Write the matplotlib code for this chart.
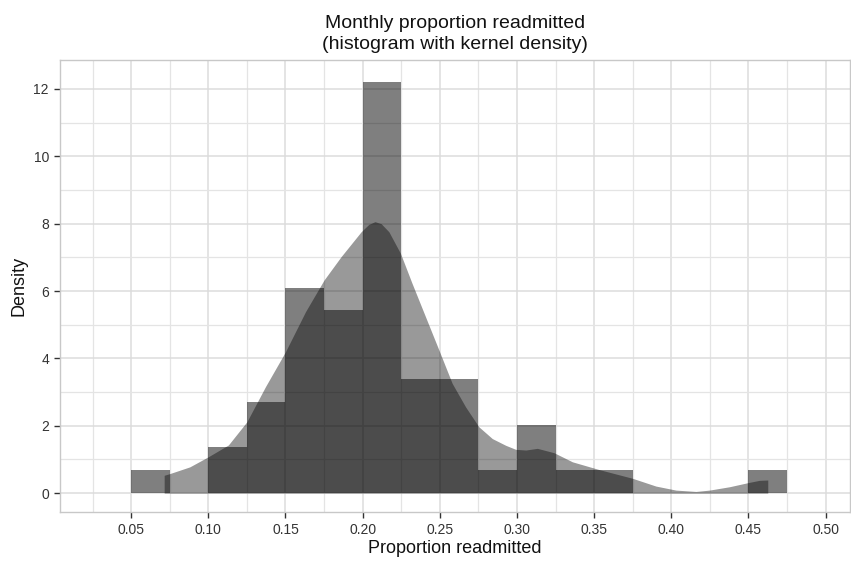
import numpy as np
import matplotlib.pyplot as plt
from matplotlib.ticker import MultipleLocator, FormatStrFormatter

plt.rcParams['font.family'] = ['Liberation Sans', 'DejaVu Sans']

# histogram: bin edges and counts (n = 59, bin width 0.025)
bin_left = [0.05, 0.075, 0.10, 0.125, 0.15, 0.175, 0.20, 0.225, 0.25,
            0.275, 0.30, 0.325, 0.35, 0.375, 0.40, 0.425, 0.45]
counts = [1, 0, 2, 4, 9, 8, 18, 5, 5, 1, 3, 1, 1, 0, 0, 0, 1]
binw = 0.025
n_obs = sum(counts)
dens_hist = [c / (n_obs * binw) for c in counts]

# kernel density curve
kde_x = [0.0714, 0.075, 0.088, 0.100, 0.113, 0.125, 0.137, 0.150, 0.163,
         0.175, 0.186, 0.199, 0.204, 0.208, 0.212, 0.217, 0.2245, 0.232,
         0.2407, 0.2494, 0.258, 0.2667, 0.2753, 0.284, 0.2927, 0.2992,
         0.3057, 0.3132, 0.324, 0.3359, 0.3532, 0.3749, 0.390, 0.403,
         0.416, 0.4247, 0.4377, 0.4495, 0.4571, 0.4625]
kde_y = [0.53, 0.58, 0.78, 1.08, 1.43, 2.12, 3.16, 4.20, 5.39,
         6.33, 7.02, 7.76, 7.98, 8.06, 8.00, 7.76, 7.12, 6.23,
         5.24, 4.25, 3.26, 2.56, 1.97, 1.62, 1.42, 1.30,
         1.28, 1.33, 1.20, 0.93, 0.70, 0.44, 0.21, 0.09,
         0.05, 0.09, 0.19, 0.31, 0.38, 0.39]

fig = plt.figure(figsize=(8.51, 5.66), dpi=100)
ax = fig.add_axes([0.0705, 0.0954, 0.928, 0.7986])

ax.bar(bin_left, dens_hist, width=binw, align='edge', color='black',
       alpha=0.5, linewidth=0, zorder=2)
ax.fill_between(kde_x, 0, kde_y, color='black', alpha=0.4, linewidth=0,
                zorder=3)

ax.set_xlim(0.0039, 0.5156)
ax.set_ylim(-0.56, 12.86)
ax.xaxis.set_major_locator(MultipleLocator(0.05))
ax.xaxis.set_minor_locator(MultipleLocator(0.025))
ax.yaxis.set_major_locator(MultipleLocator(2))
ax.yaxis.set_minor_locator(MultipleLocator(1))
ax.xaxis.set_major_formatter(FormatStrFormatter('%.2f'))
ax.set_xticks([0.05 * i for i in range(1, 11)])

ax.grid(which='major', color='#dcdcdc', linewidth=1.1, zorder=0)
ax.grid(which='minor', color='#e4e4e4', linewidth=0.9, zorder=0)
ax.set_axisbelow(True)
for s in ax.spines.values():
    s.set_color('#c8c8c8')
    s.set_linewidth(1.0)
ax.tick_params(which='major', length=4, width=1, color='#333333',
               labelsize=10, labelcolor='#333333', pad=4)
ax.tick_params(which='minor', length=0)

ax.set_xlabel('Proportion readmitted', fontsize=13, color='#111111', labelpad=2)
ax.set_ylabel('Density', fontsize=13, color='#111111', labelpad=4)
ax.set_title('Monthly proportion readmitted\n(histogram with kernel density)',
             fontsize=14, color='#111111', pad=8, linespacing=1.3)

fig.savefig('out.png', dpi=100)
